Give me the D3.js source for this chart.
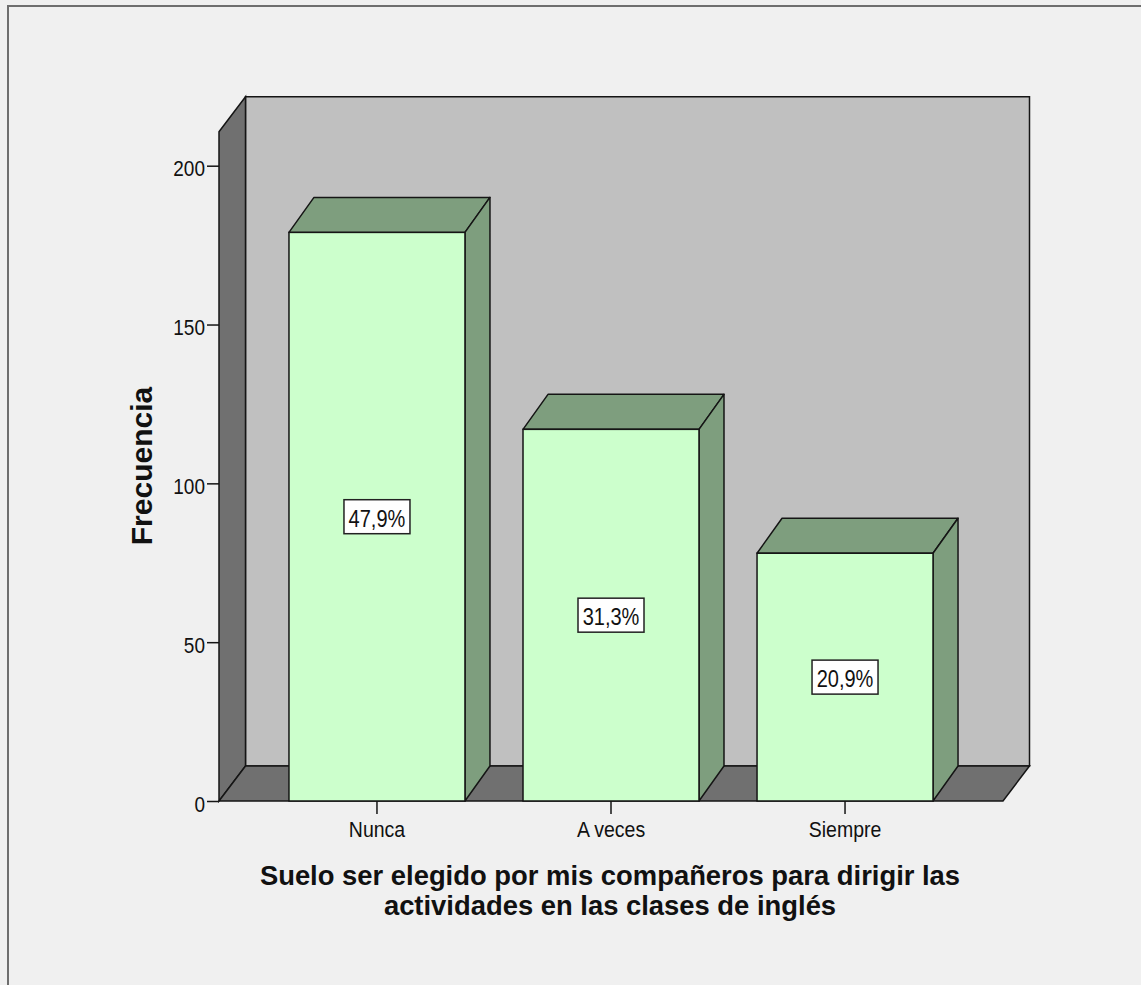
<!DOCTYPE html>
<html>
<head>
<meta charset="utf-8">
<script src="https://cdn.jsdelivr.net/npm/d3@7"></script>
<style>
  html, body { margin: 0; padding: 0; background: #f0f0f0; }
  svg { display: block; }
  text { font-family: "Liberation Sans", Arial, sans-serif; fill: #111; }
</style>
</head>
<body>
<svg id="chart" width="1141" height="985"></svg>
<script>
// ---- data ----
const categories = ["Nunca", "A veces", "Siempre"];
const counts = [179, 117, 78];
const pctLabels = ["47,9%", "31,3%", "20,9%"];
const yTicks = [0, 50, 100, 150, 200];
const yWallMax = 210.7;
const yTitle = "Frecuencia";
const xTitleLines = ["Suelo ser elegido por mis compañeros para dirigir las",
                     "actividades en las clases de inglés"];

// ---- layout ----
const W = 1141, H = 985;
const svg = d3.select("#chart");
const left = 219, right = 1003, base = 801, top200 = 165.7;
const wallDx = 26.5, wallDy = 35;
const barDx = 25, barDy = 35;
const stroke = "#151515";

const x = d3.scaleBand().domain(categories).range([left, right])
  .paddingInner(0.248).paddingOuter(0.299);
const y = d3.scaleLinear().domain([0, 200]).range([base, top200]);

// outer frame
svg.append("rect").attr("x", 8).attr("y", 6).attr("width", W + 10).attr("height", H + 10)
  .attr("fill", "#f0f0f0").attr("stroke", "#6e6e6e").attr("stroke-width", 2);

const line = d3.line();
const wallTop = y(yWallMax);

// back wall
svg.append("path")
  .attr("d", line([[left + wallDx, wallTop - wallDy], [right + wallDx, wallTop - wallDy],
                   [right + wallDx, base - wallDy], [left + wallDx, base - wallDy]]) + "Z")
  .attr("fill", "#c0c0c0").attr("stroke", stroke).attr("stroke-width", 1.5);
// side wall
svg.append("path")
  .attr("d", line([[left, wallTop], [left + wallDx, wallTop - wallDy],
                   [left + wallDx, base - wallDy], [left, base]]) + "Z")
  .attr("fill", "#707070").attr("stroke", stroke).attr("stroke-width", 1.5);
// floor
svg.append("path")
  .attr("d", line([[left, base], [right, base], [right + wallDx, base - wallDy],
                   [left + wallDx, base - wallDy]]) + "Z")
  .attr("fill", "#707070").attr("stroke", stroke).attr("stroke-width", 1.5);

// bars
const data = categories.map((c, i) => ({ c, v: counts[i], p: pctLabels[i] }));
const g = svg.append("g");
data.forEach(d => {
  const x0 = x(d.c), x1 = x0 + x.bandwidth(), yt = y(d.v), y0 = y(0);
  g.append("path")
    .attr("d", line([[x0, yt], [x0 + barDx, yt - barDy], [x1 + barDx, yt - barDy], [x1, yt]]) + "Z")
    .attr("fill", "#7e9e7e").attr("stroke", stroke).attr("stroke-width", 1.5).attr("stroke-linejoin", "round");
  g.append("path")
    .attr("d", line([[x1, yt], [x1 + barDx, yt - barDy], [x1 + barDx, y0 - barDy], [x1, y0]]) + "Z")
    .attr("fill", "#7e9e7e").attr("stroke", stroke).attr("stroke-width", 1.5).attr("stroke-linejoin", "round");
  g.append("rect").attr("x", x0).attr("y", yt).attr("width", x1 - x0).attr("height", y0 - yt)
    .attr("fill", "#ccffcc").attr("stroke", stroke).attr("stroke-width", 1.5);
  // label box
  const cx = x0 + x.bandwidth() / 2, cy = (yt + y0) / 2;
  g.append("rect").attr("x", cx - 33).attr("y", cy - 17).attr("width", 66).attr("height", 34)
    .attr("fill", "#ffffff").attr("stroke", "#222").attr("stroke-width", 1.5);
  g.append("text").attr("transform", `translate(${cx},${cy + 10}) scale(1,1.15)`)
    .attr("text-anchor", "middle").attr("font-size", 20).text(d.p);
});

// y axis
const yAxis = svg.append("g").attr("transform", `translate(${left},0)`)
  .call(d3.axisLeft(y).tickValues(yTicks).tickSize(12).tickFormat(d3.format("d")));
yAxis.select(".domain").remove();
yAxis.selectAll(".tick line").attr("stroke", stroke).attr("stroke-width", 1.5);
yAxis.selectAll(".tick text")
  .attr("x", null).attr("dy", null)
  .attr("transform", "translate(-14,10) scale(1,1.15)")
  .attr("text-anchor", "end").attr("font-size", 19)
  .attr("font-family", "Liberation Sans, Arial, sans-serif").attr("fill", "#111");

// x axis
const xAxis = svg.append("g").attr("transform", `translate(0,${base})`)
  .call(d3.axisBottom(x).tickSize(13));
xAxis.select(".domain").remove();
xAxis.selectAll(".tick line").attr("stroke", stroke).attr("stroke-width", 1.5);
xAxis.selectAll(".tick text")
  .attr("y", null).attr("dy", null)
  .attr("transform", "translate(0,35.5) scale(1,1.15)")
  .attr("text-anchor", "middle").attr("font-size", 19.5)
  .attr("font-family", "Liberation Sans, Arial, sans-serif").attr("fill", "#111");

// y title
svg.append("text")
  .attr("transform", "translate(152,466) rotate(-90)")
  .attr("text-anchor", "middle").attr("font-size", 30).attr("font-weight", "bold")
  .text(yTitle);

// x title
xTitleLines.forEach((t, i) => {
  svg.append("text").attr("x", 610).attr("y", 885 + i * 30)
    .attr("text-anchor", "middle").attr("font-size", 27.4).attr("font-weight", "bold")
    .text(t);
});
</script>
</body>
</html>
